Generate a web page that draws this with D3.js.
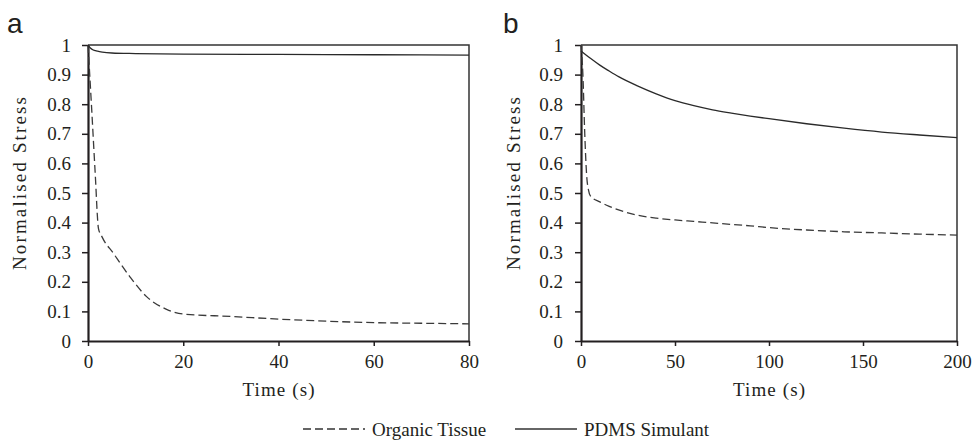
<!DOCTYPE html>
<html>
<head>
<meta charset="utf-8">
<script src="https://cdn.jsdelivr.net/npm/d3@7"></script>
<style>
  body { margin: 0; background: #fff; }
  svg text { font-family: "Liberation Serif", "Times New Roman", Times, serif; fill: #231f20; }
  svg text.panel-label { font-family: "Liberation Sans", Arial, sans-serif; font-size: 28px; }
</style>
</head>
<body>
<div id="chart"></div>
<script>
var SERIF = "Liberation Serif, Times New Roman, serif";

// panel a: time (s) and normalised stress
var tissueA_t = [0, 0.75, 1.5, 2.2, 3, 5.3, 8.8, 12.3, 16.5, 20, 30, 40, 50, 60, 70, 80];
var tissueA_v = [1, 0.79, 0.57, 0.38, 0.35, 0.297, 0.217, 0.15, 0.107, 0.091, 0.083, 0.074, 0.067, 0.062, 0.06, 0.058];
var pdmsA_t = [0, 0.5, 1, 2, 3, 5, 10, 20, 40, 60, 80];
var pdmsA_v = [1, 0.99, 0.984, 0.979, 0.976, 0.973, 0.971, 0.969, 0.968, 0.967, 0.966];

// panel b
var tissueB_t = [0, 1, 2, 3, 4, 5, 10, 15, 20, 30, 40, 50, 60, 70, 80, 90, 100, 120, 140, 160, 180, 200];
var tissueB_v = [1, 0.9, 0.7, 0.56, 0.51, 0.49, 0.47, 0.455, 0.443, 0.425, 0.415, 0.409, 0.404, 0.399, 0.394, 0.389, 0.383, 0.375, 0.369, 0.365, 0.361, 0.358];
var pdmsB_t = [0, 5, 10, 15, 20, 30, 40, 50, 60, 70, 80, 90, 100, 120, 140, 160, 180, 200];
var pdmsB_v = [0.98, 0.955, 0.932, 0.912, 0.893, 0.862, 0.835, 0.812, 0.795, 0.781, 0.77, 0.76, 0.751, 0.734, 0.719, 0.706, 0.696, 0.687];

var yTicks = [0, 0.1, 0.2, 0.3, 0.4, 0.5, 0.6, 0.7, 0.8, 0.9, 1];
var xTicksA = [0, 20, 40, 60, 80];
var xTicksB = [0, 50, 100, 150, 200];
var seriesNames = ["Organic Tissue", "PDMS Simulant"];

var svg = d3.select("#chart").append("svg")
    .attr("width", 973)
    .attr("height", 440)
    .attr("font-family", SERIF);

function zip(ts, vs) {
    return ts.map(function(t, i) { return [t, vs[i]]; });
}

function drawPanel(p) {
    var x = d3.scaleLinear().domain([0, p.xMax]).range([p.left, p.right]);
    var y = d3.scaleLinear().domain([0, 1]).range([341, 45]);

    // frame top + right
    svg.append("path")
        .attr("d", "M" + p.left + ",45H" + p.right + "V341")
        .attr("fill", "none").attr("stroke", "#333").attr("stroke-width", 1.5);

    var yAxis = svg.append("g")
        .attr("transform", "translate(" + p.left + ",0)")
        .call(d3.axisLeft(y).tickValues(yTicks).tickSize(6).tickSizeOuter(0)
            .tickPadding(p.yPad).tickFormat(d3.format("~g")));
    var xAxis = svg.append("g")
        .attr("transform", "translate(0,341)")
        .call(d3.axisBottom(x).tickValues(p.xTicks).tickSize(5).tickSizeOuter(0).tickPadding(9));

    [yAxis, xAxis].forEach(function(a) {
        a.attr("font-family", SERIF).attr("font-size", 19);
        a.select(".domain").attr("stroke", "#231f20").attr("stroke-width", 2.2);
        a.selectAll(".tick line").attr("stroke", "#231f20").attr("stroke-width", 1.5);
        a.selectAll(".tick text").attr("fill", "#231f20")
            .style("font-family", SERIF).style("font-size", "19px");
    });

    var line = d3.line()
        .x(function(d) { return x(d[0]); })
        .y(function(d) { return y(d[1]); })
        .curve(d3.curveMonotoneX);

    svg.append("path").datum(zip(p.tissue_t, p.tissue_v))
        .attr("d", line).attr("fill", "none")
        .attr("stroke", "#3a3a3a").attr("stroke-width", 1.3)
        .attr("stroke-dasharray", "8,4");
    svg.append("path").datum(zip(p.pdms_t, p.pdms_v))
        .attr("d", line).attr("fill", "none")
        .attr("stroke", "#2a2a2a").attr("stroke-width", 1.3);

    svg.append("text")
        .attr("x", (p.left + p.right) / 2).attr("y", 396)
        .attr("text-anchor", "middle")
        .attr("font-size", 19)
        .attr("textLength", 72).attr("lengthAdjust", "spacing")
        .text("Time (s)");

    svg.append("text")
        .attr("transform", "translate(" + p.titleX + ",183.5) rotate(-90)")
        .attr("text-anchor", "middle")
        .attr("font-size", 19)
        .attr("textLength", 173).attr("lengthAdjust", "spacing")
        .text("Normalised Stress");

    svg.append("text").attr("class", "panel-label")
        .attr("x", p.labelX).attr("y", 33)
        .text(p.label);
}

drawPanel({
    left: 88, right: 469, xMax: 80, xTicks: xTicksA, yPad: 11, titleX: 26, labelX: 7, label: "a",
    tissue_t: tissueA_t, tissue_v: tissueA_v, pdms_t: pdmsA_t, pdms_v: pdmsA_v
});
drawPanel({
    left: 581, right: 957, xMax: 200, xTicks: xTicksB, yPad: 12, titleX: 520, labelX: 503, label: "b",
    tissue_t: tissueB_t, tissue_v: tissueB_v, pdms_t: pdmsB_t, pdms_v: pdmsB_v
});

// legend
var legend = svg.append("g");
var legendItems = [
    { name: seriesNames[0], x0: 303, x1: 365, dash: "8,4" },
    { name: seriesNames[1], x0: 515, x1: 577, dash: null }
];
legendItems.forEach(function(d) {
    legend.append("line")
        .attr("x1", d.x0).attr("x2", d.x1).attr("y1", 429).attr("y2", 429)
        .attr("stroke", "#333").attr("stroke-width", 1.3)
        .attr("stroke-dasharray", d.dash);
    legend.append("text")
        .attr("x", d.x1 + 7).attr("y", 436)
        .attr("font-size", 19)
        .text(d.name);
});
</script>
</body>
</html>
